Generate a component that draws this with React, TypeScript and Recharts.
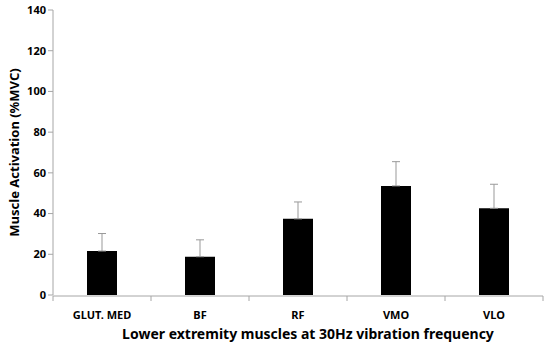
import { BarChart, Bar, XAxis, YAxis, ErrorBar } from "recharts";

const muscles = ["GLUT. MED", "BF", "RF", "VMO", "VLO"];
const activation = [21.6, 18.8, 37.4, 53.6, 42.6];
const sdUpper = [8.6, 8.3, 8.3, 11.9, 11.8];
const yTicks = [0, 20, 40, 60, 80, 100, 120, 140];
const boundaryTicks = [0, 1, 2, 3, 4, 5];

const data = muscles.map((name, i) => ({
  name,
  pos: i + 0.5,
  value: activation[i],
  err: [0, sdUpper[i]],
}));

const font = "'Noto Sans', 'Open Sans', sans-serif";
const axisColor = "#a6a6a6";

export default function App() {
  return (
    <div style={{ position: "absolute", left: 0, top: 0, background: "#fff" }}>
      <BarChart
        width={550}
        height={353}
        data={data}
        margin={{ top: 10, right: 7, bottom: 0, left: 0 }}
        barCategoryGap={34}
        style={{ fontFamily: font }}
      >
        {/* outer axis: boundary tick marks between muscles + title */}
        <XAxis
          xAxisId="sep"
          dataKey="pos"
          type="number"
          domain={[0, 5]}
          ticks={boundaryTicks}
          interval={0}
          tickSize={5}
          tickFormatter={() => ""}
          height={57}
          stroke={axisColor}
          label={{
            value: "Lower extremity muscles at 30Hz vibration frequency",
            position: "insideBottom",
            offset: 14,
            dx: 10,
            style: { fill: "#000", fontSize: 14, fontWeight: 700 },
          }}
        />
        {/* inner axis: category names */}
        <XAxis
          dataKey="name"
          axisLine={false}
          tickLine={false}
          height={1}
          tick={{ fill: "#000", fontSize: 11, fontWeight: 700 }}
          tickMargin={10}
        />
        <YAxis
          width={53}
          domain={[0, 140]}
          ticks={yTicks}
          interval={0}
          stroke={axisColor}
          tickSize={5}
          tick={{ fill: "#000", fontSize: 11, fontWeight: 700 }}
          label={{
            value: "Muscle Activation (%MVC)",
            angle: -90,
            position: "insideLeft",
            offset: 14,
            style: { textAnchor: "middle", fill: "#000", fontSize: 13, fontWeight: 700 },
          }}
        />
        <Bar dataKey="value" fill="#000" isAnimationActive={false}>
          <ErrorBar dataKey="err" width={4} stroke="#999" strokeWidth={1} direction="y" />
        </Bar>
      </BarChart>
    </div>
  );
}
